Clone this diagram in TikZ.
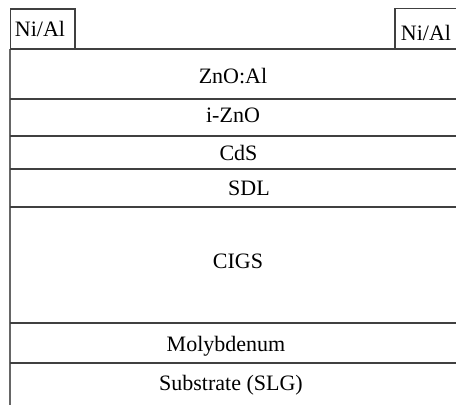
\documentclass[tikz,border=0pt]{standalone}
\usepackage{fontspec}
\setmainfont{Liberation Serif}
\begin{document}
\begin{tikzpicture}[x=1bp,y=-1bp,
  layer/.style={draw=black!75,line width=1.3bp},
  edge/.style={draw=black!60,line width=1.8bp},
  lbl/.style={anchor=base,inner sep=0pt,font=\fontsize{22bp}{26bp}\selectfont}]
\useasboundingbox (0,0) rectangle (456,405);
% left vertical edge
\draw[edge] (10,49) -- (10,405);
% contacts
\draw[layer] (10.5,49) -- (10.5,9) -- (75,9) -- (75,49);
\draw[layer] (395,49) -- (395,8.5) -- (456,8.5);
% layer boundaries
\foreach \yy in {49,99,136,169,207,323,363}
  \draw[layer] (10,\yy) -- (456,\yy);
% labels
\node[lbl] (ni1) at (40,36.5) {Ni/Al};
\node[lbl] (ni2) at (426,40) {Ni/Al};
\node[lbl] (zno) at (233,83) {ZnO:Al};
\node[lbl] (izno) at (233,122) {i-ZnO};
\node[lbl] (cds) at (238.5,160) {CdS};
\node[lbl] (sdl) at (249,195) {SDL};
\node[lbl] (cigs) at (238,268) {CIGS};
\node[lbl] (mo) at (226,351.5) {Molybdenum};
\node[lbl] (sub) at (231,390) {Substrate (SLG)};
\end{tikzpicture}
\end{document}
